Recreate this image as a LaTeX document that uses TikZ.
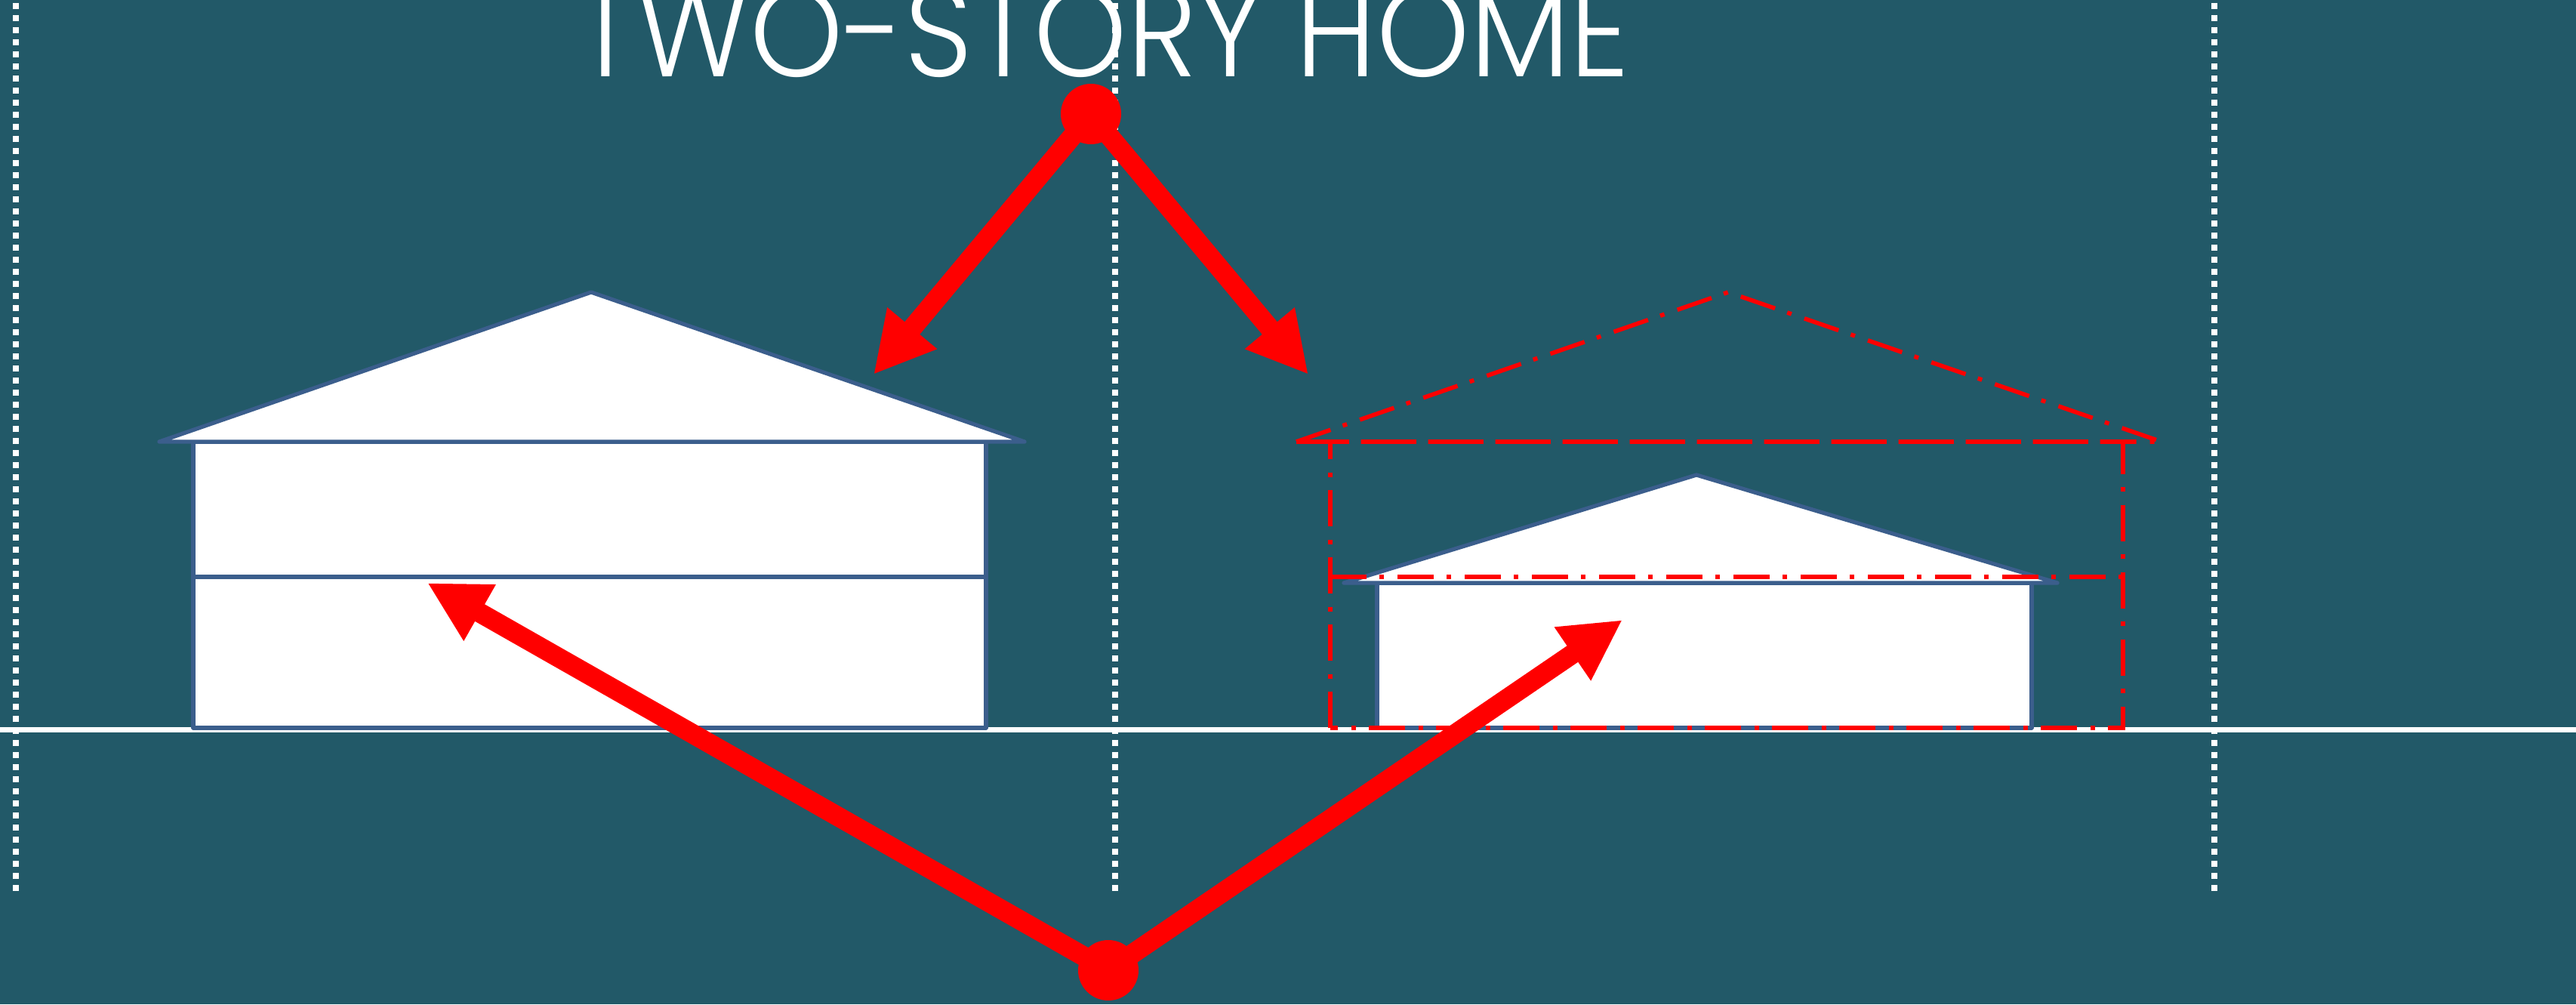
\documentclass[tikz,border=0pt]{standalone}
\usepackage{fontspec}
\newfontfamily\titlefont{Poppins Light}
\usetikzlibrary{arrows.meta}
\definecolor{slateteal}{RGB}{34, 89, 104}
\definecolor{wallblue}{RGB}{59, 94, 140}
\definecolor{markred}{RGB}{255, 0, 0}
\tikzset{
    % Vertical section dividers
    divider/.style={
        white, line width=0.08cm, dash pattern=on 0.08cm off 0.08cm
    },
    % Ground
    ground line/.style={
        white, line width=0.07cm
    },
    % Houses
    house line/.style={
        draw=wallblue, fill=white, line width=1.5pt, line join=round
    },
    % Planned second story
    ghost line/.style={
        draw=markred, line width=1.6pt,
        dash pattern=on 0.48cm off 0.17cm on 0.06cm off 0.18cm
    },
    % Red pointers
    pointer/.style={
        -{Triangle[length=0.8cm, width=0.8cm]}, markred, line width=0.26cm
    },
    marker/.style={
        circle, fill=markred, inner sep=0pt, minimum size=0.8cm
    },
    title text/.style={
        white, xscale=0.93, font=\titlefont\fontsize{48}{48}\selectfont
    }
}

\begin{document}
\begin{tikzpicture}

    \useasboundingbox (0, 0) rectangle (34.12, 13.3);
    \clip (0, 0) rectangle (34.12, 13.3);
    \fill[slateteal] (0, 0) rectangle (34.12, 13.3);

    % Dividers
    \foreach \x in {0.21, 14.77, 29.33}
        \draw[divider] (\x, 13.26) -- (\x, 1.48);

    % Title
    \node[title text, anchor=base] (title) at (14.6, 12.28) {TWO-STORY HOME};

    % Ground
    \draw[ground line] (0, 3.64) -- (34.12, 3.64);

    % ======== TWO-STORY HOUSE (LEFT) ========
    \filldraw[house line] (2.56, 3.66) rectangle (13.06, 7.45);
    \draw[house line] (2.56, 5.66) -- (13.06, 5.66);
    \filldraw[house line] (2.11, 7.45) -- (7.83, 9.43) -- (13.57, 7.45) -- cycle;

    % ======== SINGLE-STORY HOUSE (RIGHT) ========
    \filldraw[house line] (18.24, 3.66) rectangle (26.91, 5.58);
    \filldraw[house line] (17.80, 5.58) -- (22.47, 7.01) -- (27.25, 5.58) -- cycle;

    % Same two-story outline over the lot
    \begin{scope}[xshift=15.06cm]
        \draw[ghost line] (2.56, 3.66) rectangle (13.06, 7.45);
        \draw[ghost line] (2.56, 5.66) -- (13.06, 5.66);
        \draw[ghost line] (2.11, 7.45) -- (7.83, 9.43) -- (13.57, 7.45) -- cycle;
    \end{scope}

    % Pointers
    \node[marker] (topdot) at (14.45, 11.79) {};
    \node[marker] (botdot) at (14.68, 0.45) {};
    \coordinate (oldroof) at (11.57, 8.34);
    \coordinate (newroof) at (17.33, 8.34);
    \coordinate (oldfloor) at (5.66, 5.58);
    \coordinate (newfloor) at (21.49, 5.09);

    \draw[pointer] (topdot.center) -- (oldroof);
    \draw[pointer] (topdot.center) -- (newroof);
    \draw[pointer] (botdot.center) -- (oldfloor);
    \draw[pointer] (botdot.center) -- (newfloor);

\end{tikzpicture}
\end{document}
